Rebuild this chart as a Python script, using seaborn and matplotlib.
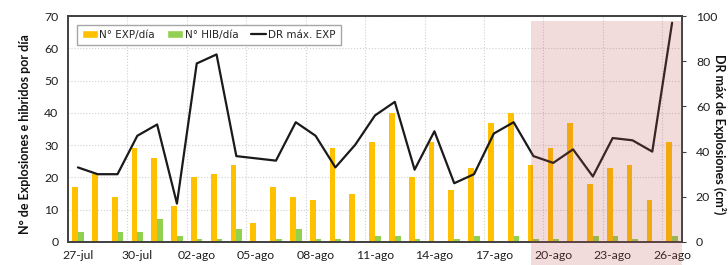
import numpy as np
import pandas as pd
import matplotlib
matplotlib.use('Agg')
import matplotlib.pyplot as plt
from matplotlib.patches import Patch, Rectangle
from matplotlib.lines import Line2D
import seaborn as sns

# datos diarios (27-jul a 26-ago)
fechas = ['27-jul', '28-jul', '29-jul', '30-jul', '31-jul',
          '01-ago', '02-ago', '03-ago', '04-ago', '05-ago', '06-ago',
          '07-ago', '08-ago', '09-ago', '10-ago', '11-ago', '12-ago',
          '13-ago', '14-ago', '15-ago', '16-ago', '17-ago', '18-ago',
          '19-ago', '20-ago', '21-ago', '22-ago', '23-ago', '24-ago',
          '25-ago', '26-ago']
exp_dia = [17, 21, 14, 29, 26, 11, 20, 21, 24, 6, 17, 14, 13, 29, 15, 31,
           40, 20, 31, 16, 23, 37, 40, 24, 29, 37, 18, 23, 24, 13, 31]
hib_dia = [3, 0, 3, 3, 7, 2, 1, 1, 4, 0, 1, 4, 1, 1, 0, 2,
           2, 1, 0, 1, 2, 0, 2, 1, 1, 0, 2, 2, 1, 0, 2]
dr_max = [33, 30, 30, 47, 52, 17, 79, 83, 38, 37, 36, 53, 47, 33, 43, 56,
          62, 32, 49, 26, 30, 48, 53, 38, 35, 41, 29, 46, 45, 40, 97]
inicio_zona = '19-ago'

naranja = '#FFC000'
verde = '#92D050'
gris = '#404040'

sns.set_style('white')
plt.rcParams['font.family'] = ['Lato', 'DejaVu Sans']

df = pd.DataFrame({
    'fecha': fechas * 2,
    'serie': ['N° EXP/día'] * len(fechas) + ['N° HIB/día'] * len(fechas),
    'valor': exp_dia + hib_dia,
})

fig, ax = plt.subplots(figsize=(7.28, 2.65), dpi=100)
fig.subplots_adjust(left=0.0934, right=0.9368, top=0.9396, bottom=0.0868)

sns.barplot(data=df, x='fecha', y='valor', hue='serie', palette=[naranja, verde],
            width=0.58, saturation=1, errorbar=None, linewidth=0, legend=False, ax=ax)

ax2 = ax.twinx()
sns.lineplot(x=np.arange(len(fechas)), y=dr_max, color='#1a1a1a', linewidth=1.6, ax=ax2)

# zona sombreada
x0 = fechas.index(inicio_zona) - 0.1
ax2.add_patch(Rectangle((x0, -0.1), len(fechas) - 0.5 - x0, 1.078,
                        transform=ax2.get_xaxis_transform(), facecolor='#c0504d',
                        alpha=0.2, edgecolor='none', clip_on=False, zorder=10))

ax.set_xlim(-0.5, len(fechas) - 0.5)
ax.set_ylim(0, 70)
ax.set_yticks(range(0, 71, 10))
ax2.set_ylim(0, 100)
ax2.set_yticks(range(0, 101, 20))

ax.set_xticks(range(0, len(fechas), 3))
ax.set_xticklabels(fechas[::3])
ax.set_xticks(np.arange(2.5, len(fechas), 3), minor=True)
ax.set_xlabel('')
ax.set_ylabel('')
ax2.set_ylabel('')

ax.grid(axis='y', color='#d0d0d0', linestyle=':', linewidth=0.8)
ax.grid(axis='x', which='minor', color='#d0d0d0', linestyle=':', linewidth=0.8)
ax.set_axisbelow(True)

ax.tick_params(axis='both', which='both', length=0, labelsize=8.8, colors='#1f1f1f')
ax.tick_params(axis='y', pad=7)
ax.tick_params(axis='x', pad=6)
ax2.tick_params(axis='y', length=3, width=0.8, color=gris, labelsize=8.8,
                labelcolor='#1f1f1f', pad=7)

for a in (ax, ax2):
    for s in a.spines.values():
        s.set_color(gris)
        s.set_linewidth(1.2)

fig.text(0.034, 0.494, 'N° de Explosiones e hibridos por día', rotation=90,
         ha='center', va='center', fontsize=9, fontweight='bold', color='#111111')
fig.text(0.989, 0.494, 'DR máx de Explosiones (cm²)', rotation=270,
         ha='center', va='center', fontsize=9, fontweight='bold', color='#111111')

handles = [Patch(facecolor=naranja), Patch(facecolor=verde),
           Line2D([0], [0], color='#1a1a1a', linewidth=1.6)]
leg = ax2.legend(handles, ['N° EXP/día', 'N° HIB/día', 'DR máx. EXP'],
                 loc='upper left', bbox_to_anchor=(0.006, 0.985), ncol=3,
                 frameon=True, fancybox=False, edgecolor='#a6a6a6', framealpha=1,
                 handlelength=1.5, handleheight=0.8, handletextpad=0.15,
                 columnspacing=1.2, borderpad=0.5,
                 prop={'family': 'DejaVu Sans', 'size': 7.5})
leg.get_frame().set_linewidth(1)

fig.savefig('out.png', dpi=100)
